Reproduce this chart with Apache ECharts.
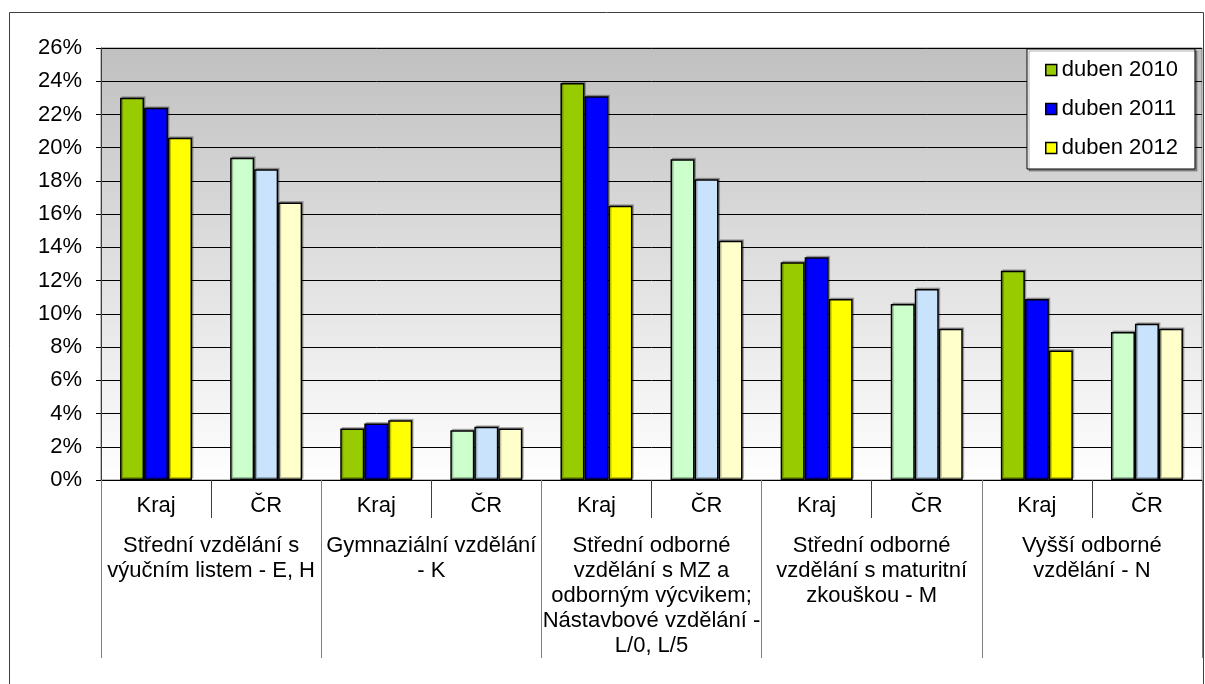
<!DOCTYPE html>
<html>
<head>
<meta charset="utf-8">
<script src="https://cdn.jsdelivr.net/npm/echarts@6/dist/echarts.min.js"></script>
<style>html,body{margin:0;padding:0;background:#fff}#c{width:1205px;height:684px}</style>
</head>
<body>
<div id="c"></div>
<script>
const subCategories = ['Kraj','ČR','Kraj','ČR','Kraj','ČR','Kraj','ČR','Kraj','ČR'];
const groupCategories = [
  'Střední vzdělání s\nvýučním listem - E, H',
  'Gymnaziální vzdělání\n- K',
  'Střední odborné\nvzdělání s MZ a\nodborným výcvikem;\nNástavbové vzdělání -\nL/0, L/5',
  'Střední odborné\nvzdělání s maturitní\nzkouškou - M',
  'Vyšší odborné\nvzdělání - N'
];
const seriesNames = ['duben 2010','duben 2011','duben 2012'];
const duben2010 = [23.0, 19.4, 3.1, 3.0, 23.9, 19.3, 13.1, 10.6, 12.6, 8.9];
const duben2011 = [22.4, 18.7, 3.4, 3.2, 23.1, 18.1, 13.4, 11.5, 10.9, 9.4];
const duben2012 = [20.6, 16.7, 3.6, 3.1, 16.5, 14.4, 10.9, 9.1, 7.8, 9.1];
const strongColors = ['#99CC00','#0000FF','#FFFF00'];
const paleColors = ['#CCFFCC','#C9E3FC','#FFFFCC'];
const yTicks = [0,2,4,6,8,10,12,14,16,18,20,22,24,26];

const chart = echarts.init(document.getElementById('c'));
const FONT = 'Liberation Sans, Arial, sans-serif';
const FS = 22;
const allData = [duben2010, duben2011, duben2012];
const series = allData.map((arr, s) => ({
  name: seriesNames[s],
  type: 'bar',
  xAxisIndex: 0,
  barWidth: 24,
  barGap: '0%',
  itemStyle: {color: strongColors[s], borderColor: '#000', borderWidth: 1.5,
    shadowColor: 'rgba(0,0,0,0.25)', shadowOffsetX: 1.5, shadowOffsetY: -1.5, shadowBlur: 0},
  data: arr.map((v, i) => ({
    value: v,
    itemStyle: {color: i % 2 === 0 ? strongColors[s] : paleColors[s]}
  }))
}));

chart.setOption({
  animation: false,
  textStyle: {fontFamily: FONT},
  graphic: [{
    type: 'rect', shape: {x: 9.5, y: 12.5, width: 1194, height: 680},
    style: {fill: 'none', stroke: '#404040', lineWidth: 1}, z: -10
  }],
  grid: {
    left: 101, right: 3, top: 48, bottom: 204,
    show: true,
    borderColor: '#808080', borderWidth: 1,
    backgroundColor: new echarts.graphic.LinearGradient(0, 0, 0, 1, [
      {offset: 0, color: '#C0C0C0'},
      {offset: 1, color: '#FFFFFF'}
    ])
  },
  legend: {
    orient: 'vertical',
    left: 1027, top: 49,
    padding: [10, 17, 10, 18],
    itemGap: 17,
    itemWidth: 11, itemHeight: 11,
    icon: 'rect',
    backgroundColor: '#fff',
    borderColor: '#000', borderWidth: 1,
    shadowColor: 'rgba(0,0,0,0.3)', shadowOffsetX: 2, shadowOffsetY: 2, shadowBlur: 0,
    textStyle: {fontFamily: FONT, fontSize: FS, color: '#000', lineHeight: 22},
    itemStyle: {borderColor: '#000', borderWidth: 1.5},
    data: seriesNames.map((n, s) => ({name: n, itemStyle: {color: strongColors[s]}}))
  },
  xAxis: [{
    type: 'category',
    data: subCategories,
    position: 'bottom',
    axisLine: {show: true, lineStyle: {color: '#000', width: 1}},
    axisTick: {show: true, length: 38, lineStyle: {color: '#404040'}},
    axisLabel: {fontFamily: FONT, fontSize: FS, color: '#000', margin: 15},
    splitLine: {show: false}
  }, {
    type: 'category',
    data: groupCategories,
    position: 'bottom',
    axisLine: {show: false},
    axisTick: {show: true, length: 178, lineStyle: {color: '#808080'}},
    axisLabel: {fontFamily: FONT, fontSize: FS, color: '#000', margin: 53, lineHeight: 25, verticalAlign: 'top', interval: 0},
    splitLine: {show: false}
  }],
  yAxis: {
    type: 'value',
    min: yTicks[0], max: yTicks[yTicks.length - 1], interval: 2,
    axisLine: {show: true, lineStyle: {color: '#404040'}},
    axisTick: {show: true, length: 5, lineStyle: {color: '#000'}},
    axisLabel: {fontFamily: FONT, fontSize: FS, color: '#000', margin: 19, formatter: v => v + '%'},
    splitLine: {show: true, lineStyle: {color: '#000', width: 1}}
  },
  series: series
});
</script>
</body>
</html>
